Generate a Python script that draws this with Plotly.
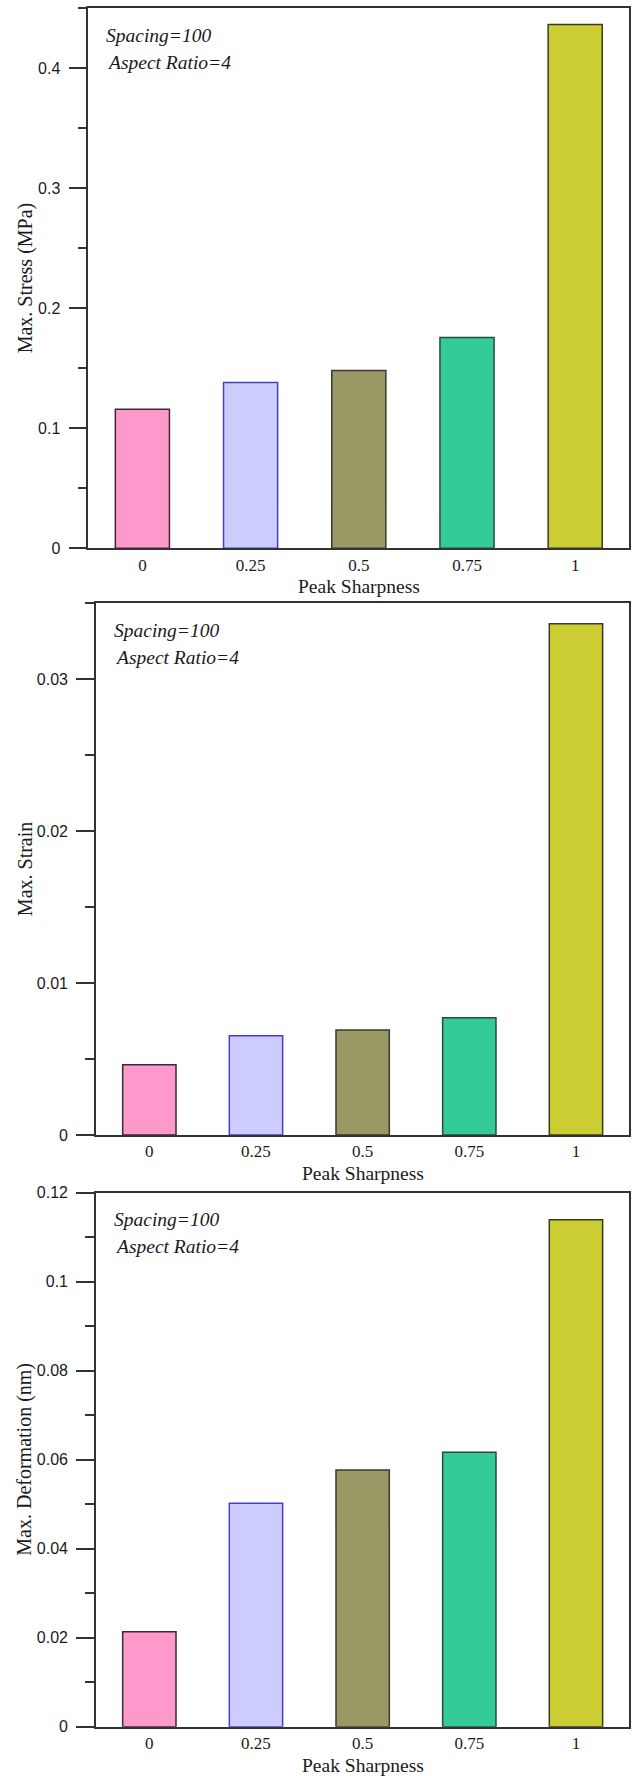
import plotly.graph_objects as go

# ---- data ----
categories = ["0", "0.25", "0.5", "0.75", "1"]
stress = [0.1159, 0.1382, 0.1481, 0.1756, 0.4365]
strain = [0.00463, 0.00654, 0.00691, 0.00772, 0.03365]
deformation = [0.02135, 0.0502, 0.0577, 0.0617, 0.1139]

y_titles = ["Max. Stress (MPa)", "Max. Strain", "Max. Deformation (nm)"]
x_title = "Peak Sharpness"
note_lines = ["Spacing=100", "Aspect Ratio=4"]

stress_ticks = [0, 0.1, 0.2, 0.3, 0.4]
stress_ticktext = ["0", "0.1", "0.2", "0.3", "0.4"]
strain_ticks = [0, 0.01, 0.02, 0.03]
strain_ticktext = ["0", "0.01", "0.02", "0.03"]
deform_ticks = [0, 0.02, 0.04, 0.06, 0.08, 0.1, 0.12]
deform_ticktext = ["0", "0.02", "0.04", "0.06", "0.08", "0.1", "0.12"]

# ---- styling ----
fill_colors = ["#FF99CC", "#CCCCFF", "#999966", "#33CC99", "#CCCC33"]
edge_colors = ["#3a2a30", "#4040C8", "#3a3a2a", "#2a4a3a", "#3a3a20"]

W, H = 635, 1776
AX = "#333333"
TXT = "#1a1a1a"
SERIF = "Liberation Serif, Times New Roman, serif"
SANS = "Liberation Sans, Arial, sans-serif"

# panel pixel boxes: (left, right, top, bottom)
panels = [
    (88.3, 629.3, 8.3, 548.3),
    (96.0, 629.3, 603.3, 1135.0),
    (96.0, 629.3, 1192.7, 1726.7),
]
yranges = [[0, 0.45], [0, 0.035], [0, 0.12]]
minor_dt = [0.05, 0.005, 0.01]
tickvals = [stress_ticks, strain_ticks, deform_ticks]
ticktexts = [stress_ticktext, strain_ticktext, deform_ticktext]
series = [stress, strain, deformation]

def px_x(p):
    return p / W

def px_y(p):
    return 1 - p / H

fig = go.Figure()
layout = dict(
    template="none",
    width=W, height=H, autosize=False,
    margin=dict(l=0, r=0, t=0, b=0, pad=0, autoexpand=False),
    paper_bgcolor="white", plot_bgcolor="white",
    showlegend=False,
    annotations=[],
)

for i, (l, r, t, b) in enumerate(panels):
    n = "" if i == 0 else str(i + 1)
    fig.add_trace(go.Bar(
        x=categories, y=series[i], width=0.5,
        marker=dict(color=fill_colors, line=dict(color=edge_colors, width=1.5)),
        xaxis="x" + n, yaxis="y" + n, hoverinfo="x+y",
    ))
    layout["xaxis" + n] = dict(
        domain=[px_x(l), px_x(r)], anchor="y" + n, automargin=False,
        type="category", range=[-0.5, 4.5],
        showline=True, linecolor=AX, linewidth=1.6, mirror=True,
        ticks="", showgrid=False, zeroline=False,
        tickfont=dict(family=SERIF, size=17, color=TXT),
        ticklabelstandoff=0,
    )
    layout["yaxis" + n] = dict(
        domain=[px_y(b), px_y(t)], anchor="x" + n, automargin=False,
        range=yranges[i],
        showline=True, linecolor=AX, linewidth=1.6, mirror=True,
        ticks="outside", ticklen=18, tickwidth=1.6, tickcolor=AX,
        tickvals=tickvals[i], ticktext=ticktexts[i],
        minor=dict(dtick=minor_dt[i], ticks="outside", ticklen=9,
                   tickwidth=1.6, tickcolor=AX, showgrid=False),
        showgrid=False, zeroline=False,
        tickfont=dict(family=SANS, size=16, color=TXT),
        ticklabelstandoff=5,
    )
    # y axis title
    layout["annotations"].append(dict(
        text=y_titles[i], xref="paper", yref="paper",
        x=px_x(25), y=px_y((t + b) / 2), textangle=-90,
        xanchor="center", yanchor="middle", showarrow=False,
        font=dict(family=SERIF, size=20, color=TXT),
    ))
    # x axis title
    layout["annotations"].append(dict(
        text=x_title, xref="paper", yref="paper",
        x=px_x((l + r) / 2), y=px_y(b + 38.5),
        xanchor="center", yanchor="middle", showarrow=False,
        font=dict(family=SERIF, size=19.5, color=TXT),
    ))
    # notes
    for k, line in enumerate(note_lines):
        layout["annotations"].append(dict(
            text="<i>" + line + "</i>", xref="paper", yref="paper",
            x=px_x(l + 15.5 + k), y=px_y(t + 27 + 27 * k),
            xanchor="left", yanchor="middle", showarrow=False,
            font=dict(family=SERIF, size=19.5, color=TXT),
        ))

fig.update_layout(**layout)
fig.write_html("out.html")
